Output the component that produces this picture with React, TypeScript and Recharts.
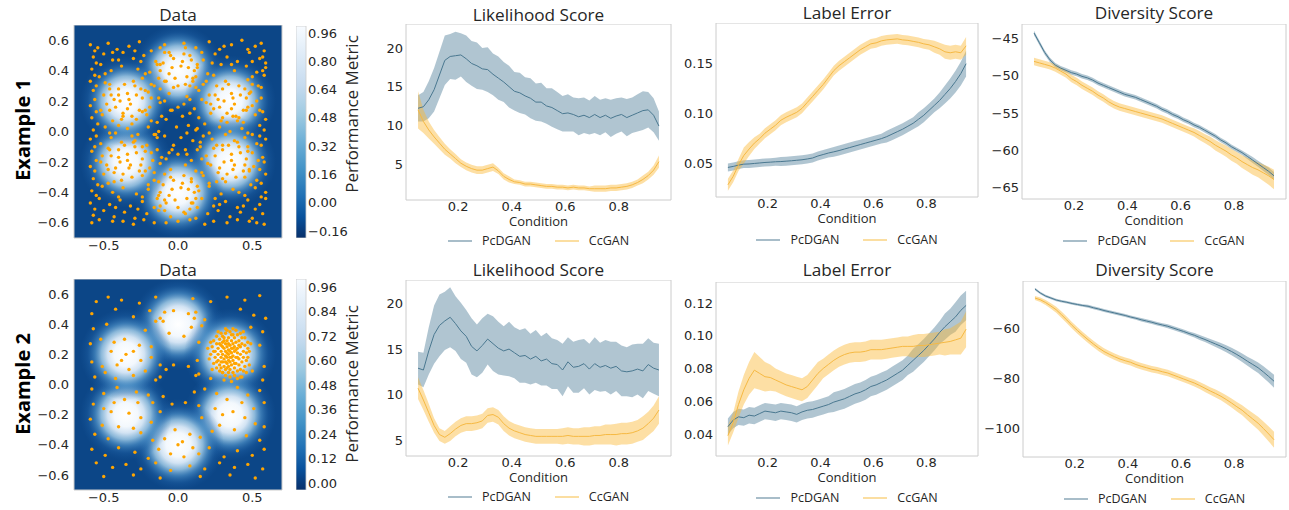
import React from "react";
import {
  ComposedChart,
  ScatterChart,
  BarChart,
  Bar,
  Scatter,
  Area,
  Line,
  XAxis,
  YAxis,
  CartesianGrid,
  ReferenceArea,
} from "recharts";

// condition values shared by all six line panels
const COND = [
  0.05, 0.07, 0.09, 0.11, 0.13, 0.15, 0.17, 0.19, 0.21, 0.23,
  0.25, 0.27, 0.29, 0.31, 0.33, 0.35, 0.37, 0.39, 0.41, 0.43,
  0.45, 0.47, 0.49, 0.51, 0.53, 0.55, 0.57, 0.59, 0.61, 0.63,
  0.65, 0.67, 0.69, 0.71, 0.73, 0.75, 0.77, 0.79, 0.81, 0.83,
  0.85, 0.87, 0.89, 0.91, 0.93, 0.95,
];
const X_TICKS = [0.2, 0.4, 0.6, 0.8];

// ---- Example 1 ----
const LIKE1_PC = [
  12.2, 12.4, 13.3, 14.6, 16.5, 18.4, 18.9, 19.0, 19.1, 18.6,
  18.0, 17.7, 17.3, 17.2, 16.6, 16.1, 15.6, 15.0, 14.4, 14.2,
  13.8, 13.5, 13.0, 13.0, 12.5, 12.3, 11.9, 11.5, 11.6, 11.4,
  11.1, 11.3, 11.0, 11.4, 11.0, 11.3, 10.9, 11.2, 11.4, 11.0,
  11.3, 11.6, 11.9, 12.0, 11.3, 9.9,
];
const LIKE1_PC_SD = [
  1.7, 1.9, 2.4, 2.8, 3.0, 3.2, 2.9, 3.1, 2.8, 3.0,
  2.9, 3.0, 2.7, 2.9, 2.7, 2.8, 2.6, 2.7, 2.5, 2.6,
  2.4, 2.6, 2.4, 2.5, 2.3, 2.5, 2.4, 2.3, 2.4, 2.2,
  2.4, 2.3, 2.2, 2.4, 2.3, 2.2, 2.4, 2.3, 2.2, 2.4,
  2.3, 2.4, 2.5, 2.3, 2.2, 1.9,
];
const LIKE1_CC = [
  12.0, 10.5, 9.4, 8.5, 7.7, 6.9, 6.3, 5.7, 5.1, 4.7,
  4.4, 4.2, 4.2, 4.4, 4.6, 4.1, 3.4, 3.0, 2.7, 2.6,
  2.4, 2.4, 2.3, 2.2, 2.1, 2.1, 2.0, 2.0, 1.9, 2.0,
  1.9, 1.9, 1.8, 1.8, 1.8, 1.8, 1.9, 1.9, 2.0, 2.1,
  2.3, 2.6, 3.0, 3.5, 4.2, 5.3,
];
const LIKE1_CC_SD = [
  2.4, 1.5, 1.1, 0.9, 0.8, 0.7, 0.6, 0.6, 0.5, 0.5,
  0.5, 0.5, 0.5, 0.5, 0.5, 0.4, 0.4, 0.4, 0.3, 0.3,
  0.3, 0.3, 0.3, 0.3, 0.3, 0.3, 0.3, 0.3, 0.3, 0.3,
  0.3, 0.3, 0.3, 0.4, 0.4, 0.4, 0.4, 0.4, 0.4, 0.4,
  0.4, 0.4, 0.5, 0.5, 0.6, 0.8,
];
const LABEL1_PC = [
  0.0455, 0.0465, 0.0478, 0.0488, 0.049, 0.0495, 0.05, 0.0505, 0.0508, 0.0512,
  0.0514, 0.0518, 0.0522, 0.0527, 0.0532, 0.054, 0.055, 0.057, 0.0585, 0.06,
  0.0612, 0.0625, 0.064, 0.0655, 0.067, 0.0685, 0.07, 0.0715, 0.073, 0.0745,
  0.0765, 0.079, 0.0815, 0.084, 0.087, 0.09, 0.094, 0.098, 0.103, 0.108,
  0.113, 0.119, 0.125, 0.132, 0.14, 0.15,
];
const LABEL1_PC_SD = [
  0.004, 0.004, 0.004, 0.004, 0.004, 0.004, 0.004, 0.004, 0.004, 0.004,
  0.0045, 0.0045, 0.0045, 0.0045, 0.0045, 0.0045, 0.0045, 0.0045, 0.0045, 0.0045,
  0.005, 0.005, 0.005, 0.005, 0.005, 0.005, 0.005, 0.005, 0.005, 0.005,
  0.006, 0.006, 0.006, 0.006, 0.006, 0.006, 0.007, 0.007, 0.007, 0.007,
  0.008, 0.009, 0.01, 0.011, 0.012, 0.013,
];
const LABEL1_CC = [
  0.028, 0.0365, 0.048, 0.0575, 0.064, 0.07, 0.0745, 0.08, 0.084, 0.088,
  0.093, 0.096, 0.0985, 0.101, 0.105, 0.111, 0.117, 0.123, 0.129, 0.136,
  0.143, 0.148, 0.152, 0.156, 0.16, 0.164, 0.167, 0.17, 0.171, 0.173,
  0.174, 0.1745, 0.175, 0.174, 0.1735, 0.1725, 0.1715, 0.17, 0.169, 0.167,
  0.165, 0.162, 0.161, 0.162, 0.161, 0.168,
];
const LABEL1_CC_SD = [
  0.006, 0.006, 0.006, 0.008, 0.007, 0.006, 0.005, 0.005, 0.005, 0.005,
  0.005, 0.005, 0.005, 0.005, 0.005, 0.005, 0.005, 0.005, 0.005, 0.005,
  0.005, 0.005, 0.005, 0.005, 0.005, 0.005, 0.005, 0.005, 0.005, 0.005,
  0.005, 0.005, 0.005, 0.005, 0.005, 0.005, 0.005, 0.005, 0.005, 0.006,
  0.006, 0.007, 0.007, 0.007, 0.007, 0.009,
];
const DIV1_PC = [
  -44.3, -45.6, -46.9, -47.9, -48.6, -49.0, -49.3, -49.6, -49.8, -50.1,
  -50.3, -50.6, -51.0, -51.3, -51.6, -51.9, -52.2, -52.5, -52.7, -52.9,
  -53.2, -53.5, -53.8, -54.1, -54.5, -54.8, -55.2, -55.5, -55.9, -56.2,
  -56.6, -56.9, -57.3, -57.7, -58.1, -58.6, -59.0, -59.5, -59.9, -60.3,
  -60.8, -61.3, -61.8, -62.3, -62.8, -63.4,
];
const DIV1_PC_SD = [
  0.3, 0.3, 0.3, 0.3, 0.3, 0.3, 0.3, 0.3, 0.3, 0.3,
  0.3, 0.3, 0.3, 0.3, 0.3, 0.3, 0.3, 0.3, 0.3, 0.3,
  0.3, 0.3, 0.3, 0.3, 0.3, 0.3, 0.3, 0.3, 0.3, 0.3,
  0.3, 0.3, 0.3, 0.3, 0.3, 0.3, 0.3, 0.3, 0.3, 0.3,
  0.35, 0.4, 0.4, 0.45, 0.5, 0.5,
];
const DIV1_CC = [
  -48.1, -48.3, -48.5, -48.7, -49.0, -49.4, -49.8, -50.4, -50.8, -51.3,
  -51.7, -52.1, -52.6, -53.0, -53.5, -53.9, -54.2, -54.4, -54.6, -54.8,
  -55.0, -55.2, -55.4, -55.6, -55.8, -56.1, -56.4, -56.7, -57.0, -57.3,
  -57.6, -58.0, -58.4, -58.8, -59.3, -59.7, -60.1, -60.6, -61.0, -61.5,
  -61.9, -62.3, -62.6, -63.0, -63.4, -63.9,
];
const DIV1_CC_SD = [
  0.5, 0.5, 0.5, 0.5, 0.5, 0.5, 0.5, 0.5, 0.5, 0.5,
  0.5, 0.5, 0.5, 0.5, 0.5, 0.5, 0.5, 0.5, 0.5, 0.5,
  0.5, 0.5, 0.5, 0.5, 0.5, 0.5, 0.5, 0.5, 0.5, 0.5,
  0.55, 0.6, 0.6, 0.65, 0.7, 0.7, 0.75, 0.8, 0.8, 0.85,
  0.9, 0.95, 1.0, 1.1, 1.2, 1.3,
];

// ---- Example 2 ----
const LIKE2_PC = [
  12.9, 12.7, 14.8, 16.6, 17.6, 18.1, 18.5, 17.8, 17.0, 16.4,
  15.3, 14.8, 15.4, 16.1, 15.6, 15.1, 14.8, 15.0, 14.6, 14.2,
  14.3, 13.9, 14.2, 13.7, 13.9, 13.4, 13.3, 12.7, 13.6, 13.0,
  13.1, 13.4, 12.8, 13.4, 13.0, 13.2, 12.9, 13.1, 12.6, 12.5,
  12.6, 12.8, 12.6, 13.3, 12.9, 12.7,
];
const LIKE2_PC_SD = [
  1.8, 1.9, 2.6, 3.2, 3.4, 3.2, 3.3, 3.0, 3.1, 2.9,
  3.1, 2.9, 3.0, 2.8, 3.0, 2.9, 2.7, 3.0, 2.8, 2.9,
  3.0, 2.8, 2.9, 2.7, 2.9, 2.8, 2.7, 2.9, 2.7, 2.8,
  2.9, 2.7, 2.8, 2.9, 2.7, 2.8, 2.9, 2.7, 2.8, 2.7,
  2.9, 2.8, 3.0, 2.9, 2.8, 2.9,
];
const LIKE2_CC = [
  10.7, 9.4, 8.0, 6.6, 5.6, 5.3, 5.7, 6.2, 6.6, 6.8,
  6.8, 6.9, 7.1, 7.7, 7.8, 7.5, 6.8, 6.3, 6.0, 5.8,
  5.6, 5.5, 5.4, 5.4, 5.4, 5.4, 5.4, 5.4, 5.5, 5.4,
  5.4, 5.4, 5.4, 5.5, 5.5, 5.6, 5.6, 5.6, 5.7, 5.7,
  5.8, 6.0, 6.3, 6.8, 7.4, 8.3,
];
const LIKE2_CC_SD = [
  1.2, 1.1, 1.0, 0.8, 0.7, 0.7, 0.8, 0.8, 0.8, 0.8,
  0.8, 0.8, 0.8, 0.8, 0.8, 0.8, 0.8, 0.8, 0.8, 0.8,
  0.8, 0.8, 0.8, 0.8, 0.8, 0.8, 0.8, 0.9, 0.9, 0.9,
  0.9, 1.0, 1.0, 1.0, 1.0, 1.1, 1.1, 1.2, 1.2, 1.2,
  1.2, 1.2, 1.3, 1.3, 1.4, 1.5,
];
const LABEL2_PC = [
  0.0445, 0.0485, 0.0505, 0.05, 0.0515, 0.051, 0.0525, 0.054, 0.0535, 0.053,
  0.054, 0.0535, 0.053, 0.052, 0.0535, 0.0545, 0.055, 0.056, 0.057, 0.058,
  0.0595, 0.0605, 0.0615, 0.063, 0.0645, 0.0655, 0.067, 0.069, 0.07, 0.0715,
  0.073, 0.075, 0.077, 0.079, 0.082, 0.085, 0.088, 0.091, 0.0945, 0.098,
  0.102, 0.1055, 0.1085, 0.1115, 0.1155, 0.1185,
];
const LABEL2_PC_SD = [
  0.005, 0.005, 0.005, 0.005, 0.005, 0.005, 0.005, 0.005, 0.005, 0.005,
  0.005, 0.005, 0.005, 0.005, 0.005, 0.005, 0.005, 0.005, 0.005, 0.005,
  0.006, 0.006, 0.006, 0.006, 0.006, 0.006, 0.006, 0.006, 0.006, 0.006,
  0.006, 0.006, 0.006, 0.006, 0.006, 0.007, 0.007, 0.007, 0.007, 0.007,
  0.007, 0.008, 0.008, 0.009, 0.009, 0.009,
];
const LABEL2_CC = [
  0.039, 0.047, 0.058, 0.067, 0.074, 0.079, 0.077, 0.075, 0.0745, 0.073,
  0.0715, 0.07, 0.069, 0.068, 0.067, 0.069, 0.073, 0.077, 0.08, 0.0825,
  0.085, 0.087, 0.0885, 0.0895, 0.09, 0.09, 0.0905, 0.0915, 0.0915, 0.0915,
  0.092, 0.0925, 0.093, 0.0935, 0.0935, 0.0935, 0.094, 0.094, 0.0945, 0.095,
  0.0955, 0.096, 0.0965, 0.0975, 0.0985, 0.104,
];
const LABEL2_CC_SD = [
  0.006, 0.006, 0.008, 0.009, 0.01, 0.011, 0.01, 0.009, 0.008, 0.007,
  0.007, 0.007, 0.007, 0.007, 0.007, 0.007, 0.007, 0.007, 0.006, 0.006,
  0.006, 0.006, 0.006, 0.006, 0.006, 0.006, 0.006, 0.006, 0.006, 0.006,
  0.006, 0.006, 0.006, 0.006, 0.006, 0.007, 0.007, 0.007, 0.007, 0.007,
  0.007, 0.008, 0.008, 0.009, 0.01, 0.011,
];
const DIV2_PC = [
  -44.4, -46.0, -47.2, -48.0, -48.8, -49.3, -49.7, -50.2, -50.6, -51.0,
  -51.3, -51.9, -52.4, -53.0, -53.5, -54.0, -54.5, -55.0, -55.6, -56.1,
  -56.7, -57.2, -57.7, -58.3, -58.8, -59.3, -60.0, -60.7, -61.4, -62.2,
  -62.9, -63.8, -64.6, -65.5, -66.4, -67.3, -68.3, -69.4, -70.6, -71.9,
  -73.3, -74.6, -75.9, -77.6, -79.4, -81.3,
];
const DIV2_PC_SD = [
  0.5, 0.5, 0.5, 0.5, 0.5, 0.5, 0.5, 0.5, 0.5, 0.5,
  0.6, 0.6, 0.6, 0.6, 0.6, 0.6, 0.6, 0.6, 0.6, 0.6,
  0.7, 0.7, 0.7, 0.7, 0.7, 0.8, 0.8, 0.8, 0.8, 0.8,
  0.9, 1.0, 1.0, 1.1, 1.2, 1.3, 1.4, 1.5, 1.6, 1.7,
  1.8, 2.0, 2.1, 2.3, 2.4, 2.6,
];
const DIV2_CC = [
  -48.0, -48.7, -49.8, -51.2, -52.7, -54.7, -56.8, -59.0, -61.0, -62.9,
  -64.7, -66.4, -68.0, -69.4, -70.5, -71.5, -72.4, -73.1, -73.7, -74.6,
  -75.3, -75.9, -76.5, -76.9, -77.5, -78.0, -78.8, -79.6, -80.4, -81.2,
  -82.0, -83.0, -84.1, -85.2, -86.2, -87.3, -88.6, -90.0, -91.5, -92.9,
  -94.7, -96.4, -98.1, -100.2, -102.4, -104.7,
];
const DIV2_CC_SD = [
  0.8, 0.9, 1.0, 1.1, 1.2, 1.3, 1.3, 1.3, 1.3, 1.3,
  1.3, 1.3, 1.3, 1.3, 1.3, 1.3, 1.3, 1.3, 1.3, 1.3,
  1.3, 1.3, 1.3, 1.3, 1.3, 1.3, 1.3, 1.3, 1.3, 1.3,
  1.4, 1.4, 1.5, 1.5, 1.6, 1.6, 1.7, 1.8, 1.9, 2.0,
  2.2, 2.4, 2.6, 2.8, 3.0, 3.2,
];

// centres of the bright spots in the performance field
const BUMPS = [
  { x: 0, y: 0.4 },
  { x: 0.35, y: 0.2 },
  { x: 0.35, y: -0.2 },
  { x: 0, y: -0.4 },
  { x: -0.35, y: -0.2 },
  { x: -0.35, y: 0.2 },
];

// sample points, x,y pairs in hundredths
const PTS1 = [
  -59,57, -54,55, -47,58, -41,54, -33,56, -26,59, -18,53, -9,57, 4,58, 12,55, 21,59, 28,54, 36,57, 43,60, 52,56, 58,53,
  -57,49, -50,51, -44,47, -37,52, -30,48, -23,50, -15,46, -6,52, 8,50, 17,47, 25,51, 33,49, 40,46, 48,52, 55,48, 59,45,
  -58,41, -52,44, -45,40, -38,43, -27,41, -19,39, -12,44, 13,42, 20,38, 29,44, 38,40, 46,43, 53,39, 59,42,
  -59,33, -53,36, -46,31, -24,35, -16,30, -9,33, 10,35, 17,31, 47,34, 54,30, 58,37, -3,29, 5,31,
  -57,27, -50,24, -20,26, -13,22, -6,25, 6,23, 14,27, 21,24, 49,26, 56,22,
  -59,17, -52,14, -19,16, -12,19, -5,14, 4,18, 11,15, 19,19, 50,17, 57,13,
  -58,9, -51,11, -44,7, -37,10, -28,8, -21,11, -14,6, 14,9, 22,12, 29,7, 37,10, 44,6, 52,11, 59,8,
  -57,1, -49,3, -42,-1, -34,2, -27,-2, -20,3, -13,0, 13,2, 21,-1, 28,3, 35,0, 43,2, 50,-2, 58,1,
  -59,-5, -52,-8, -45,-4, -38,-7, -29,-6, -21,-9, -14,-4, 15,-7, 23,-5, 30,-9, 38,-6, 45,-4, 53,-8, 59,-5,
  -58,-13, -51,-16, -18,-14, -11,-17, -4,-12, 6,-15, 13,-12, 19,-16, 50,-14, 57,-17,
  -59,-23, -52,-20, -19,-24, -12,-21, -5,-25, 5,-22, 12,-26, 20,-21, 51,-23, 58,-20,
  -57,-31, -50,-28, -43,-33, -24,-29, -16,-32, -9,-28, 9,-31, 17,-29, 26,-33, 45,-30, 53,-32, 59,-28,
  -58,-39, -51,-36, -44,-40, -37,-37, -28,-41, -20,-38, -13,-42, 14,-39, 21,-36, 29,-41, 37,-38, 45,-42, 52,-37, 59,-40,
  -59,-47, -53,-44, -46,-48, -39,-45, -32,-49, -24,-46, -16,-50, -9,-45, 9,-47, 16,-44, 24,-49, 32,-46, 40,-50, 47,-45, 55,-48, 59,-44,
  -57,-55, -50,-52, -43,-56, -36,-53, -29,-57, -21,-54, -13,-52, -5,-56, 4,-53, 12,-57, 20,-54, 27,-52, 35,-56, 42,-53, 50,-57, 57,-54,
  -58,-60, -44,-59, -30,-61, -16,-60, 0,-59, 18,-61, 33,-60, 48,-59, 58,-61,
  -56,53, -44,52, -29,53, -12,55, 16,52, 31,56, 47,54, 56,58,
  -55,45, -40,47, -25,46, 23,45, 36,44, 50,46, 57,49,
  -56,37, -49,38, -22,38, 24,37, 50,36, 57,40,
  -55,30, -49,32, -18,31, -12,28, 12,29, 19,33, 50,31, 56,29,
  -56,21, -18,22, 16,21, -9,20, 8,21, 53,20,
  -55,13, -46,14, -24,13, 24,15, 46,14, 55,14,
  -54,5, -40,4, -31,5, -18,7, 18,5, 33,6, 41,9, 55,4,
  -55,-3, -46,-1, -31,-3, -16,-2, 17,-3, 32,-2, 47,-1, 55,-3,
  -56,-10, -47,-11, -24,-10, 24,-11, 47,-10, 56,-9,
  -55,-19, -17,-19, -8,-18, 9,-19, 16,-18, 54,-19,
  -56,-26, -47,-25, -16,-27, 16,-27, 48,-26, 55,-25,
  -54,-35, -47,-34, -20,-35, 21,-34, 49,-35, 56,-34,
  -55,-42, -40,-43, -24,-43, 25,-44, 41,-40, 56,-43,
  -56,-51, -42,-50, -27,-51, -12,-49, 13,-50, 28,-48, 44,-49, 52,-51,
  -53,-58, -37,-59, -23,-58, -8,-60, 8,-58, 24,-59, 40,-58, 53,-60,
  -10,45, -6,38, -3,48, 2,43, 6,36, 9,47, 11,40, -8,33, 0,30, 4,51, -12,40, 7,42, -2,35, 3,46, -5,50, 10,33,
  -14,44, -9,52, 5,55, 13,44, 12,36, -13,35, -4,42, 8,30,
  25,24, 28,16, 30,28, 33,12, 36,25, 38,18, 41,30, 44,14, 46,22, 31,20, 39,10, 42,24, 34,31, 27,21, 36,15, 45,28,
  22,18, 26,30, 32,33, 40,7, 47,16, 48,25, 37,22, 30,9,
  25,-16, 28,-24, 30,-12, 33,-28, 36,-15, 38,-22, 41,-10, 44,-26, 46,-18, 31,-20, 39,-30, 42,-14, 34,-9, 27,-27, 36,-19, 45,-22,
  22,-22, 26,-9, 32,-33, 40,-7, 47,-13, 48,-25, 37,-25, 30,-31,
  -10,-35, -6,-42, -3,-32, 2,-37, 6,-44, 9,-33, 11,-40, -8,-47, 0,-50, 4,-29, -12,-40, 7,-38, -2,-45, 3,-34, -5,-30, 10,-47,
  -14,-44, -9,-52, 5,-54, 13,-36, 12,-44, -13,-33, -4,-38, 8,-51,
  -45,-16, -42,-24, -40,-12, -37,-28, -34,-15, -32,-22, -29,-10, -26,-26, -24,-18, -39,-20, -31,-30, -28,-14, -36,-9, -43,-27, -34,-19, -25,-22,
  -48,-22, -46,-12, -38,-32, -30,-7, -22,-13, -22,-26, -33,-24, -40,-17,
  -45,24, -42,16, -40,28, -37,12, -34,25, -32,18, -29,30, -26,14, -24,22, -39,20, -31,10, -28,24, -36,31, -43,21, -34,15, -25,28,
  -48,18, -46,28, -38,8, -30,33, -22,27, -22,14, -33,21, -40,24,
  -8,8, -4,14, 3,10, 7,4, 10,-6, 5,-12, -3,-9, -9,-3, -1,3, 2,-4, -6,-14, 8,12, -11,10, 12,1,
  -15,-2, 0,-15, 15,-10, 0,16, -14,-12, 6,-1,
];
const PTS2 = [
  -55,55, -47,58, -38,56, -26,54, -15,58, 10,57, 22,55, 33,58, 45,56, 55,59,
  -58,47, -42,50, -30,45, -19,49, -12,44, 12,48, 18,43, 42,50, 51,46, 59,44,
  -57,37, -48,40, -22,36, 16,39, 49,38, 57,35, -15,42,
  -59,27, -52,30, -18,25, 14,28, 55,26,
  -58,15, -51,12, -18,18, -12,13, 13,16, 58,12,
  -56,5, -49,8, -42,4, -30,6, -22,9, -15,3, 14,7, 22,4, 30,8, 42,5, 50,9, 57,3,
  -58,-3, -50,-6, -41,-2, -28,-5, -20,-7, 18,-3, 26,-6, 40,-2, 47,-7, 55,-4,
  -57,-13, -50,-16, -17,-12, -12,-18, 14,-14, 51,-16, 58,-12,
  -59,-23, -51,-27, -18,-25, 16,-22, 52,-26, 58,-28,
  -56,-33, -47,-36, -25,-32, -17,-37, 15,-35, 23,-31, 46,-34, 55,-37,
  -58,-43, -49,-47, -40,-42, -29,-45, -20,-49, -13,-43, 14,-46, 21,-42, 31,-48, 40,-44, 50,-47, 58,-43,
  -55,-52, -44,-55, -35,-53, -25,-56, -15,-52, -5,-57, 8,-54, 18,-56, 28,-52, 38,-55, 47,-53, 57,-56,
  -50,-61, -30,-60, -12,-62, 15,-61, 35,-60, 52,-62,
  -10,42, -6,34, 4,32, 9,38, 7,47, -3,49, 11,44, -9,48,
  -45,22, -41,13, -33,10, -25,16, -26,26, -36,30, -43,28, -35,20, -30,22, -38,16,
  -45,-18, -40,-28, -30,-29, -25,-22, -27,-12, -36,-10, -43,-12, -33,-19,
  -9,-36, -5,-46, 4,-48, 10,-42, 8,-33, -2,-30, 0,-40, 3,-38,
  25,-16, 28,-27, 38,-30, 45,-22, 43,-12, 33,-10, 30,-20, 37,-18,
  -12,5, -10,-8, -4,-13, 5,-12, 11,-5, 12,6, 7,12, -3,13, -8,10,
  22,20, 23,25, 24,14, 24,29, 25,18, 25,22, 26,11, 26,27, 26,32, 27,16, 27,20, 27,24, 28,9, 28,13, 28,30,
  29,18, 29,22, 29,26, 29,34, 30,8, 30,15, 30,20, 30,28, 31,12, 31,17, 31,24, 31,31, 32,6, 32,10, 32,19,
  32,22, 32,27, 32,34, 33,14, 33,18, 33,25, 33,29, 34,8, 34,12, 34,16, 34,20, 34,23, 34,31, 35,5, 35,10,
  35,18, 35,26, 35,35, 36,13, 36,21, 36,24, 36,29, 37,8, 37,16, 37,19, 37,27, 37,33, 38,11, 38,22, 38,25,
  38,31, 39,14, 39,18, 39,28, 40,9, 40,21, 40,24, 40,33, 41,13, 41,17, 41,29, 42,20, 42,25, 42,10, 43,15,
  43,27, 43,31, 44,18, 44,22, 45,12, 45,26, 46,16, 46,21, 47,24, 47,28, 29,11, 31,29, 33,21, 35,15, 36,33,
  38,6, 39,23, 41,26, 44,9, 28,27, 26,15, 24,22, 30,32, 33,36, 37,37, 42,34, 45,31, 47,18, 48,13, 21,17,
  22,28, 23,10, 31,3, 36,2, 40,4, 48,22, 49,27, 20,24, 27,35, 32,37, 39,36, 44,35, 46,8, 43,5, 34,27,
  35,22, 36,18, 33,11, 30,25, 38,14, 40,18, 29,15, 32,15, 37,24,
];

const DATA_XTICKS = [-0.5, 0, 0.5];
const DATA_YTICKS = [-0.6, -0.4, -0.2, 0, 0.2, 0.4, 0.6];
const CB1_RANGE: [number, number] = [-0.2, 1.0];
const CB1_TICKS = [-0.16, 0, 0.16, 0.32, 0.48, 0.64, 0.8, 0.96];
const CB2_RANGE: [number, number] = [-0.034, 1.0];
const CB2_TICKS = [0, 0.12, 0.24, 0.36, 0.48, 0.6, 0.72, 0.84, 0.96];

const FONT = "'Open Sans', 'DejaVu Sans', sans-serif";
const TICK_FONT = "'DejaVu Sans', sans-serif";
const INK = "#262626";
const PC_LINE = "#4a7890";
const PC_FILL = "#4f7f99";
const CC_LINE = "#f6b943";
const CC_FILL = "#fbb836";
const ORANGE = "#ffa500";
const FIELD_BG = "#0c4687";
const X_DOMAIN: [number, number] = [0.005, 0.995];
const TICK = { fontSize: 13, fill: INK, fontFamily: TICK_FONT };

const fmt = (d: number) => (v: number) => v.toFixed(d).replace("-", "\u2212");

const toPoints = (flat: number[]) => {
  const out: { x: number; y: number }[] = [];
  for (let i = 0; i < flat.length; i += 2) out.push({ x: flat[i] / 100, y: flat[i + 1] / 100 });
  return out;
};

function Title({ cx, cy, text }: { cx: number; cy: number; text: string }) {
  return (
    <div
      style={{
        position: "absolute", left: cx - 150, width: 300, top: cy - 11, height: 22,
        lineHeight: "22px", textAlign: "center", fontSize: 17.2, fontFamily: FONT, color: INK,
      }}
    >
      {text}
    </div>
  );
}

function Rotated({ cx, cy, text, size, bold }: { cx: number; cy: number; text: string; size: number; bold?: boolean }) {
  return (
    <div
      style={{
        position: "absolute", left: cx - 120, top: cy - 14, width: 240, height: 28,
        lineHeight: "28px", textAlign: "center", transform: "rotate(-90deg)",
        fontSize: size, fontWeight: bold ? 700 : 400, fontFamily: FONT, color: bold ? "#000" : INK,
        whiteSpace: "nowrap",
      }}
    >
      {text}
    </div>
  );
}

function Legend2({ cx, cy }: { cx: number; cy: number }) {
  const item = (color: string, label: string) => (
    <div style={{ display: "flex", alignItems: "center" }}>
      <svg width={24} height={4} style={{ marginRight: 10 }}>
        <line x1={0} x2={24} y1={2} y2={2} stroke={color} strokeWidth={1.6} />
      </svg>
      <span>{label}</span>
    </div>
  );
  return (
    <div
      style={{
        position: "absolute", left: cx - 150, width: 300, top: cy - 10, height: 20,
        display: "flex", justifyContent: "center", alignItems: "center", gap: 24,
        fontSize: 12.5, fontFamily: FONT, color: INK, lineHeight: "20px",
      }}
    >
      {item("#93adbc", "PcDGAN")}
      {item("#fbd68a", "CcGAN")}
    </div>
  );
}

type LineProps = {
  box: [number, number, number, number];
  title: string;
  titleY: number;
  legendY: number;
  domain: [number, number];
  ticks: number[];
  digits: number;
  pc: number[];
  pcSd: number[];
  cc: number[];
  ccSd: number[];
};

function LinePanel({ box, title, titleY, legendY, domain, ticks, digits, pc, pcSd, cc, ccSd }: LineProps) {
  const [x0, y0, x1, y1] = box;
  const w = x1 - x0;
  const h = y1 - y0;
  const data = COND.map((c, i) => ({
    c,
    pc: pc[i],
    pcBand: [pc[i] - pcSd[i], pc[i] + pcSd[i]],
    cc: cc[i],
    ccBand: [cc[i] - ccSd[i], cc[i] + ccSd[i]],
  }));
  return (
    <>
      <Title cx={x0 + w / 2} cy={titleY} text={title} />
      <div style={{ position: "absolute", left: x0 - 45, top: y0 }}>
        <ComposedChart width={w + 47} height={h + 33} data={data} margin={{ top: 0, right: 2, bottom: 0, left: 0 }}>
          <XAxis
            type="number" dataKey="c" domain={X_DOMAIN} ticks={X_TICKS} allowDataOverflow
            axisLine={false} tickLine={false} tickSize={0} tickMargin={2} height={33}
            tick={TICK} tickFormatter={fmt(1)}
            label={{ value: "Condition", position: "insideBottom", offset: 7, fontSize: 13, fontFamily: FONT, fill: INK }}
          />
          <YAxis
            type="number" domain={domain} ticks={ticks} allowDataOverflow interval={0}
            axisLine={false} tickLine={false} tickSize={0} tickMargin={3} width={45}
            tick={TICK} tickFormatter={fmt(digits)}
          />
          <Area dataKey="pcBand" type="linear" stroke="none" fill={PC_FILL} fillOpacity={0.45} isAnimationActive={false} activeDot={false} />
          <Line dataKey="pc" type="linear" stroke={PC_LINE} strokeWidth={1} dot={false} isAnimationActive={false} activeDot={false} />
          <Area dataKey="ccBand" type="linear" stroke="none" fill={CC_FILL} fillOpacity={0.45} isAnimationActive={false} activeDot={false} />
          <Line dataKey="cc" type="linear" stroke={CC_LINE} strokeWidth={1} dot={false} isAnimationActive={false} activeDot={false} />
          <ReferenceArea x1={X_DOMAIN[0]} x2={X_DOMAIN[1]} y1={domain[0]} y2={domain[1]} fill="none" stroke="#cccccc" strokeWidth={1} />
        </ComposedChart>
      </div>
      <Legend2 cx={x0 + w / 2} cy={legendY} />
    </>
  );
}

function DataPanel({ box, flat, id, titleY }: { box: [number, number, number, number]; flat: number[]; id: string; titleY: number }) {
  const [x0, y0, x1, y1] = box;
  const w = x1 - x0;
  const h = y1 - y0;
  const pts = toPoints(flat);
  return (
    <>
      <Title cx={x0 + w / 2} cy={titleY} text="Data" />
      <div style={{ position: "absolute", left: x0 - 50, top: y0 }}>
        <ScatterChart width={w + 51} height={h + 22} margin={{ top: 0, right: 1, bottom: 0, left: 0 }}>
          <defs>
            <radialGradient id={id}>
              <stop offset="0%" stopColor="#ffffff" stopOpacity={1} />
              <stop offset="26%" stopColor="#f3f8fd" stopOpacity={1} />
              <stop offset="40%" stopColor="#d2e3f3" stopOpacity={1} />
              <stop offset="54%" stopColor="#95c1e0" stopOpacity={0.92} />
              <stop offset="68%" stopColor="#4f93ca" stopOpacity={0.65} />
              <stop offset="84%" stopColor="#2468ad" stopOpacity={0.32} />
              <stop offset="100%" stopColor="#1a5ba0" stopOpacity={0} />
            </radialGradient>
          </defs>
          <CartesianGrid fill={FIELD_BG} horizontal={false} vertical={false} />
          <XAxis
            type="number" dataKey="x" domain={[-0.7, 0.7]} ticks={DATA_XTICKS} allowDataOverflow interval={0}
            axisLine={false} tickLine={false} tickSize={0} tickMargin={3} height={22}
            tick={TICK} tickFormatter={fmt(1)}
          />
          <YAxis
            type="number" dataKey="y" domain={[-0.7, 0.7]} ticks={DATA_YTICKS} allowDataOverflow interval={0}
            axisLine={false} tickLine={false} tickSize={0} tickMargin={5} width={50}
            tick={TICK} tickFormatter={fmt(1)}
          />
          <Scatter
            data={BUMPS} isAnimationActive={false}
            shape={(p: any) => <circle cx={p.cx} cy={p.cy} r={46} fill={`url(#${id})`} />}
          />
          <Scatter
            data={pts} isAnimationActive={false} fill={ORANGE}
            shape={(p: any) => <circle cx={p.cx} cy={p.cy} r={1.7} fill={ORANGE} />}
          />
          <ReferenceArea x1={-0.7} x2={0.7} y1={-0.7} y2={0.7} fill="none" stroke="#cccccc" strokeWidth={1} />
        </ScatterChart>
      </div>
    </>
  );
}

function ColorBar({ box, range, ticks, id }: { box: [number, number, number, number]; range: [number, number]; ticks: number[]; id: string }) {
  const [x0, y0, x1, y1] = box;
  const w = x1 - x0;
  const h = y1 - y0;
  const data = [{ k: "bar", r: range }];
  return (
    <div style={{ position: "absolute", left: x0, top: y0 }}>
      <BarChart width={w + 50} height={h} data={data} margin={{ top: 0, right: 0, bottom: 0, left: 0 }} barCategoryGap={0}>
        <defs>
          <linearGradient id={id} x1="0" y1="0" x2="0" y2="1">
            <stop offset="0%" stopColor="#f7fbff" />
            <stop offset="14%" stopColor="#deebf7" />
            <stop offset="28%" stopColor="#c6dbef" />
            <stop offset="42%" stopColor="#9ecae1" />
            <stop offset="55%" stopColor="#6baed6" />
            <stop offset="68%" stopColor="#4292c6" />
            <stop offset="80%" stopColor="#2171b5" />
            <stop offset="90%" stopColor="#08519c" />
            <stop offset="100%" stopColor="#08306b" />
          </linearGradient>
        </defs>
        <XAxis dataKey="k" type="category" hide />
        <YAxis
          type="number" orientation="right" domain={range} ticks={ticks} allowDataOverflow interval={0}
          axisLine={false} tickLine={false} tickSize={0} tickMargin={2} width={50}
          tick={TICK} tickFormatter={fmt(2)}
        />
        <Bar dataKey="r" fill={`url(#${id})`} stroke="#cccccc" strokeWidth={0.8} isAnimationActive={false} />
      </BarChart>
    </div>
  );
}

export default function App() {
  return (
    <div style={{ position: "absolute", left: 0, top: 0, width: 1289, height: 510, background: "#fff", overflow: "hidden" }}>
      <Rotated cx={23} cy={130} text="Example 1" size={20} bold />
      <Rotated cx={23} cy={384} text="Example 2" size={20} bold />

      <DataPanel box={[74, 25, 282, 238]} flat={PTS1} id="bump1" titleY={15} />
      <ColorBar box={[296, 26, 306, 238]} range={CB1_RANGE} ticks={CB1_TICKS} id="cb1" />
      <Rotated cx={352} cy={114} text="Performance Metric" size={17} />

      <DataPanel box={[74, 279, 282, 490]} flat={PTS2} id="bump2" titleY={270} />
      <ColorBar box={[296, 279, 306, 490]} range={CB2_RANGE} ticks={CB2_TICKS} id="cb2" />
      <Rotated cx={352} cy={384} text="Performance Metric" size={17} />

      <LinePanel box={[406, 24, 671, 200]} title="Likelihood Score" titleY={15} legendY={241}
        domain={[0.34, 23.1]} ticks={[5, 10, 15, 20]} digits={0}
        pc={LIKE1_PC} pcSd={LIKE1_PC_SD} cc={LIKE1_CC} ccSd={LIKE1_CC_SD} />
      <LinePanel box={[716, 23, 978, 197]} title="Label Error" titleY={13} legendY={240}
        domain={[0.0157, 0.191]} ticks={[0.05, 0.1, 0.15]} digits={2}
        pc={LABEL1_PC} pcSd={LABEL1_PC_SD} cc={LABEL1_CC} ccSd={LABEL1_CC_SD} />
      <LinePanel box={[1022, 24, 1286, 199]} title="Diversity Score" titleY={13} legendY={241}
        domain={[-66.5, -43.1]} ticks={[-65, -60, -55, -50, -45]} digits={0}
        pc={DIV1_PC} pcSd={DIV1_PC_SD} cc={DIV1_CC} ccSd={DIV1_CC_SD} />

      <LinePanel box={[406, 280, 671, 456]} title="Likelihood Score" titleY={270} legendY={497}
        domain={[3.24, 22.6]} ticks={[5, 10, 15, 20]} digits={0}
        pc={LIKE2_PC} pcSd={LIKE2_PC_SD} cc={LIKE2_CC} ccSd={LIKE2_CC_SD} />
      <LinePanel box={[716, 282, 978, 456]} title="Label Error" titleY={270} legendY={498}
        domain={[0.0266, 0.1328]} ticks={[0.04, 0.06, 0.08, 0.1, 0.12]} digits={2}
        pc={LABEL2_PC} pcSd={LABEL2_PC_SD} cc={LABEL2_CC} ccSd={LABEL2_CC_SD} />
      <LinePanel box={[1023, 281, 1286, 457]} title="Diversity Score" titleY={270} legendY={499}
        domain={[-111.6, -41.2]} ticks={[-100, -80, -60]} digits={0}
        pc={DIV2_PC} pcSd={DIV2_PC_SD} cc={DIV2_CC} ccSd={DIV2_CC_SD} />
    </div>
  );
}
